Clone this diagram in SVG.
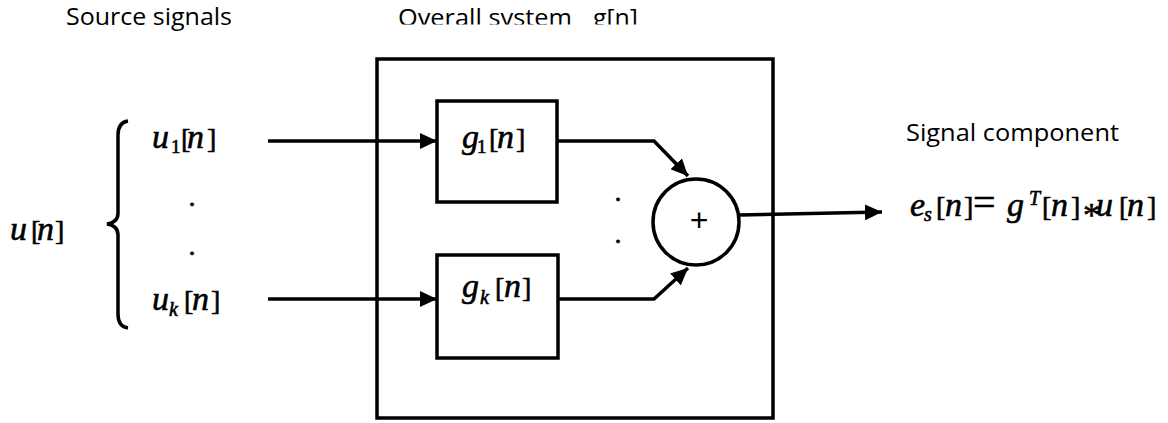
<svg xmlns="http://www.w3.org/2000/svg" width="1168" height="423" viewBox="0 0 1168 423">
<style>
.lbl{font-family:"Open Sans","Liberation Sans",sans-serif;font-size:23px;fill:#000}
text.m{font-family:"Liberation Serif","DejaVu Serif",serif;font-size:28px;fill:#000;stroke:#000;stroke-width:0.6}
tspan.i{font-style:italic;font-size:34px}
tspan.sub{font-size:19px}
tspan.subi{font-style:italic;font-size:20px}
.box{fill:none;stroke:#000;stroke-width:3.5}
.ln{fill:none;stroke:#000;stroke-width:3.5}
</style>
<defs>
<marker id="ah" markerUnits="userSpaceOnUse" markerWidth="18" markerHeight="16" refX="17" refY="8" orient="auto">
<path d="M0,0 L17,8 L0,16 z" fill="#000"/>
</marker>
<clipPath id="clipTop"><rect x="0" y="0" width="1168" height="24.5"/></clipPath>
</defs>
<rect width="1168" height="423" fill="#fff"/>

<g id="labels">
<text class="lbl" x="66" y="25" textLength="166" lengthAdjust="spacingAndGlyphs">Source signals</text>
<g clip-path="url(#clipTop)">
<text class="lbl" x="398" y="26" textLength="174" lengthAdjust="spacingAndGlyphs">Overall system</text>
<text class="lbl" x="593" y="26" textLength="45" lengthAdjust="spacingAndGlyphs">g[n]</text>
</g>
<text class="lbl" x="906" y="141" textLength="213" lengthAdjust="spacingAndGlyphs">Signal component</text>
</g>

<g id="source">
<text class="m" x="10" y="240"><tspan class="i">u</tspan><tspan x="31">[</tspan><tspan class="i" x="37">n</tspan><tspan x="55">]</tspan></text>
<path class="ln" d="M128,121 C121,122 118,127 118,135 L118,213 C118,220 114,223 107,224 C114,225 118,228 118,235 L118,314 C118,322 121,327 128,328"/>
<text class="m" x="152" y="148"><tspan class="i">u</tspan><tspan class="sub" x="171" y="153">1</tspan><tspan x="181" y="148">[</tspan><tspan class="i" x="187">n</tspan><tspan x="207">]</tspan></text>
<text class="m" x="188.5" y="206">.</text>
<text class="m" x="188.5" y="255">.</text>
<text class="m" x="152" y="310"><tspan class="i">u</tspan><tspan class="subi" x="169" y="316">k</tspan><tspan x="184" y="310">[</tspan><tspan class="i" x="192">n</tspan><tspan x="211">]</tspan></text>
</g>

<g id="system">
<rect class="box" x="377" y="59" width="396" height="359" stroke-width="4"/>
</g>

<g id="g1">
<rect class="box" x="437" y="101" width="120" height="101"/>
<text class="m" x="462" y="148"><tspan class="i">g</tspan><tspan class="sub" x="477" y="153">1</tspan><tspan x="489" y="148">[</tspan><tspan class="i" x="497">n</tspan><tspan x="516">]</tspan></text>
</g>

<g id="gk">
<rect class="box" x="437" y="255" width="121" height="103"/>
<text class="m" x="462" y="297"><tspan class="i">g</tspan><tspan class="subi" x="480" y="304">k</tspan><tspan x="495" y="297">[</tspan><tspan class="i" x="504">n</tspan><tspan x="522">]</tspan></text>
</g>

<g id="mid-dots">
<text class="m" x="614.5" y="201">.</text>
<text class="m" x="614.5" y="243">.</text>
</g>

<g id="sum">
<circle cx="696" cy="222" r="43" fill="none" stroke="#000" stroke-width="3.5"/>
<text x="699" y="231" text-anchor="middle" font-family="Liberation Sans, sans-serif" font-size="32" fill="#000">+</text>
</g>

<g id="output">
<text class="m" x="910" y="216"><tspan class="i">e</tspan><tspan class="subi" x="924" y="221">s</tspan><tspan x="936" y="216">[</tspan><tspan class="i" x="945">n</tspan><tspan x="964">]</tspan><tspan x="973" font-size="40">=</tspan><tspan class="i" x="1007">g</tspan><tspan class="subi" x="1029" y="205">T</tspan><tspan x="1042" y="216">[</tspan><tspan class="i" x="1051">n</tspan><tspan x="1071">]</tspan><tspan x="1083" y="226" font-size="34">*</tspan><tspan class="i" x="1096" y="216">u</tspan><tspan x="1119">[</tspan><tspan class="i" x="1127">n</tspan><tspan x="1147">]</tspan></text>
</g>

<g id="connectors">
<line class="ln" x1="268" y1="141" x2="437" y2="141" marker-end="url(#ah)"/>
<line class="ln" x1="268" y1="299" x2="437" y2="299" marker-end="url(#ah)"/>
<polyline class="ln" points="557,141 654,141 688,176" marker-end="url(#ah)"/>
<polyline class="ln" points="558,299 654,299 688,268" marker-end="url(#ah)"/>
<line class="ln" x1="739" y1="215" x2="882" y2="212" marker-end="url(#ah)"/>
</g>
</svg>
